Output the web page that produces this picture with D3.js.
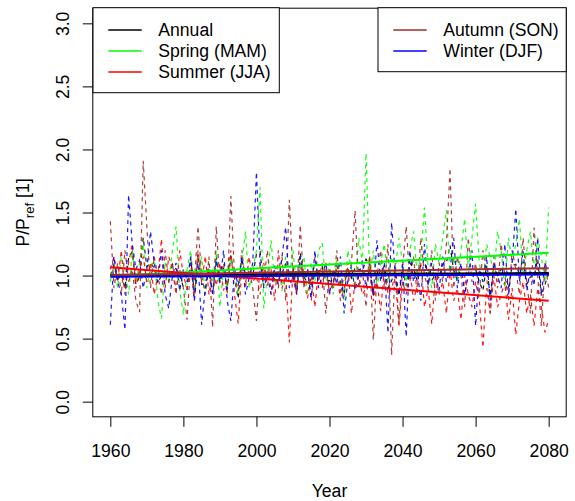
<!DOCTYPE html>
<html>
<head>
<meta charset="utf-8">
<script src="https://cdn.jsdelivr.net/npm/d3@7"></script>
<style>
  body { margin: 0; background: #fff; }
  text { font-family: "Liberation Sans", Arial, Helvetica, sans-serif; }
</style>
</head>
<body>
<div id="chart"></div>
<script>

// years 1960..2080
var years = d3.range(1960, 2081);

var annual = [
  1.00, 1.08, 0.97, 1.01, 0.90, 1.14, 1.19, 0.93, 0.99, 1.30,
  1.07, 1.10, 1.06, 0.94, 1.00, 1.01, 0.95, 1.09, 1.05, 1.00,
  0.91, 0.89, 1.14, 0.86, 1.17, 0.93, 0.94, 1.04, 0.86, 1.16,
  0.94, 1.06, 0.89, 1.16, 0.98, 0.82, 1.13, 1.01, 1.02, 1.00,
  1.17, 1.19, 0.92, 1.03, 1.01, 0.97, 1.03, 1.02, 1.09, 0.99,
  1.06, 0.87, 1.18, 0.99, 0.94, 0.93, 1.01, 1.03, 1.07, 0.96,
  0.96, 0.94, 1.08, 0.95, 0.85, 1.05, 0.98, 1.06, 1.05, 1.03,
  1.13, 1.09, 0.84, 1.03, 0.99, 1.08, 0.90, 0.96, 1.04, 0.84,
  1.05, 0.92, 1.10, 1.06, 0.96, 1.09, 1.13, 0.94, 0.96, 1.01,
  0.98, 1.09, 1.10, 1.24, 1.04, 0.98, 0.99, 1.01, 1.05, 1.05,
  1.05, 0.95, 0.88, 1.08, 0.84, 1.06, 1.00, 1.05, 1.03, 0.90,
  1.08, 1.09, 1.01, 1.11, 0.93, 0.99, 0.99, 1.13, 0.84, 0.93, 1.02
];

var spring = [
  0.95, 1.10, 0.90, 1.15, 1.05, 0.85, 1.20, 0.95, 1.10, 1.25,
  0.90, 1.05, 1.15, 0.80, 0.66, 1.10, 0.95, 1.20, 1.39, 0.88,
  0.69, 1.05, 1.20, 0.90, 1.00, 1.15, 0.85, 1.10, 0.95, 1.20,
  0.75, 1.05, 0.90, 1.15, 1.00, 0.85, 1.10, 1.35, 0.90, 1.05,
  1.20, 1.70, 0.74, 1.00, 1.28, 0.95, 1.10, 0.88, 1.15, 1.00,
  1.20, 0.90, 1.05, 1.15, 0.85, 1.10, 0.95, 1.20, 1.26, 0.92,
  1.10, 0.85, 1.15, 1.00, 0.80, 1.20, 1.05, 0.90, 1.30, 1.10,
  1.97, 1.00, 1.20, 0.90, 1.10, 1.25, 0.95, 1.15, 1.05, 1.30,
  1.10, 0.92, 1.20, 1.35, 1.00, 1.15, 1.54, 1.05, 0.90, 1.25,
  1.10, 1.30, 1.52, 1.00, 1.15, 0.95, 1.20, 1.45, 1.05, 1.30,
  1.57, 1.10, 0.95, 1.25, 1.15, 1.00, 1.35, 1.20, 0.90, 1.30,
  1.10, 1.25, 1.45, 1.00, 1.20, 1.35, 1.05, 1.30, 1.15, 0.95, 1.54
];

var summer = [
  1.05, 1.15, 0.95, 1.20, 0.85, 1.10, 1.25, 0.90, 1.05, 1.15,
  0.95, 1.10, 0.85, 1.00, 1.29, 0.90, 1.15, 1.05, 0.85, 1.20,
  1.00, 0.90, 1.10, 0.80, 1.20, 0.95, 1.155, 0.85, 1.05, 0.92,
  1.10, 0.88, 1.00, 1.20, 0.85, 0.62, 1.05, 0.90, 1.15, 0.95,
  1.00, 0.85, 1.10, 0.92, 1.05, 0.80, 1.20, 0.90, 1.00, 0.47,
  1.05, 0.88, 1.10, 0.95, 0.82, 1.00, 0.75, 1.05, 0.90, 1.10,
  0.85, 0.95, 1.05, 0.80, 0.90, 1.10, 0.70, 0.95, 1.00, 0.85,
  0.90, 1.15, 0.80, 0.95, 0.72, 1.05, 0.85, 0.90, 1.00, 0.59,
  0.95, 0.85, 1.05, 0.80, 0.92, 1.10, 0.75, 0.90, 0.616, 1.00,
  0.85, 0.95, 0.70, 1.05, 0.80, 0.90, 0.65, 1.00, 0.85, 0.75,
  0.95, 0.80, 0.43, 0.90, 0.70, 1.00, 0.75, 0.85, 0.95, 0.65,
  0.90, 0.53, 0.80, 0.95, 0.70, 0.85, 0.60, 0.90, 0.75, 0.55, 0.65
];

var autumn = [
  1.43, 0.90, 1.10, 0.85, 1.20, 0.95, 1.05, 0.80, 0.71, 1.91,
  1.39, 0.90, 1.15, 1.00, 0.85, 1.20, 0.95, 1.10, 0.88, 1.05,
  0.90, 0.65, 1.10, 0.95, 1.39, 1.00, 0.85, 1.15, 0.59, 1.39,
  0.95, 1.10, 0.85, 1.63, 1.00, 0.88, 1.20, 0.95, 1.05, 0.90,
  0.64, 1.10, 0.95, 1.20, 0.85, 1.05, 0.90, 1.15, 0.80, 1.60,
  1.00, 0.85, 1.40, 0.90, 1.05, 0.80, 1.15, 0.95, 1.10, 0.70,
  1.05, 0.90, 1.20, 0.85, 1.00, 0.95, 1.10, 1.515, 0.90, 1.05,
  0.75, 1.15, 0.49, 1.00, 1.20, 0.90, 1.25, 0.37, 1.10, 0.63,
  1.05, 1.39, 0.95, 1.15, 0.85, 1.30, 1.00, 0.90, 1.20, 0.80,
  1.10, 0.95, 1.25, 1.85, 0.90, 1.15, 1.00, 0.75, 1.30, 0.95,
  1.10, 0.85, 1.20, 1.00, 0.70, 1.15, 0.90, 1.25, 1.00, 0.80,
  1.20, 1.05, 0.85, 1.30, 0.95, 0.70, 1.38, 1.00, 0.60, 1.10, 0.90
];

var winter = [
  0.61, 1.15, 0.95, 0.85, 0.57, 1.64, 1.25, 1.05, 1.12, 0.90,
  1.05, 1.35, 1.10, 0.95, 1.20, 0.85, 0.74, 1.00, 1.10, 0.88,
  1.05, 0.95, 1.15, 0.80, 1.10, 0.61, 0.90, 1.05, 0.85, 1.12,
  0.95, 1.20, 0.80, 0.64, 1.05, 0.92, 1.15, 0.85, 0.98, 1.10,
  1.82, 1.10, 0.90, 1.00, 0.85, 1.08, 0.93, 1.15, 1.385, 0.90,
  1.00, 0.85, 1.15, 0.95, 1.05, 0.82, 1.20, 0.90, 1.00, 1.10,
  0.85, 1.05, 0.93, 1.15, 0.70, 0.95, 1.08, 0.88, 1.00, 1.12,
  0.90, 1.05, 0.85, 1.28, 0.95, 1.10, 0.545, 1.42, 1.00, 0.85,
  1.10, 0.515, 1.20, 0.95, 1.05, 0.80, 1.25, 0.92, 1.10, 1.00,
  0.88, 1.15, 0.95, 1.05, 1.30, 0.90, 1.10, 0.85, 1.00, 1.20,
  0.60, 1.05, 0.95, 1.15, 0.80, 1.10, 1.00, 0.90, 1.25, 0.85,
  1.10, 1.53, 0.95, 1.20, 0.88, 1.05, 0.92, 1.30, 0.85, 1.10, 1.00
];

// linear trend lines, value at 1960 and at 2080
var trendAnnual = [1.005, 1.02];
var trendSpring = [0.995, 1.18];
var trendSummer = [1.065, 0.80];
var trendAutumn = [1.005, 1.058];
var trendWinter = [0.99, 1.008];

var xTicks = [1960, 1980, 2000, 2020, 2040, 2060, 2080];
var yTicks = [0, 0.5, 1, 1.5, 2, 2.5, 3];

var legendLeft = ["Annual", "Spring (MAM)", "Summer (JJA)"];
var legendRight = ["Autumn (SON)", "Winter (DJF)"];

var svgWidth = 575;
var svgHeight = 501;

var box = { left: 92.8, right: 566.2, top: 8.2, bottom: 416.8 };

var svg = d3.select("#chart")
  .append("svg")
  .attr("width", svgWidth)
  .attr("height", svgHeight);

// R style 4% padding around the data range
var xScale = d3.scaleLinear()
  .domain([1955.2, 2084.8])
  .range([box.left, box.right]);

var yScale = d3.scaleLinear()
  .domain([-0.12, 3.12])
  .range([box.bottom, box.top]);

var fontSize = 17.6;

var series = [
  { values: annual, trend: trendAnnual, color: "#000000" },
  { values: spring, trend: trendSpring, color: "#00FF00" },
  { values: summer, trend: trendSummer, color: "#FF0000" },
  { values: autumn, trend: trendAutumn, color: "#A52A2A" },
  { values: winter, trend: trendWinter, color: "#0000FF" }
];

var plot = svg.append("g");

var line = d3.line()
  .x((d, i) => xScale(years[i]))
  .y(d => yScale(d));

// dashed yearly values
series.forEach(function(s) {
  plot.append("path")
    .datum(s.values)
    .attr("d", line)
    .attr("fill", "none")
    .attr("stroke", s.color)
    .attr("stroke-width", 1.2)
    .attr("stroke-opacity", 0.9)
    .attr("stroke-dasharray", "4,4");
});

// solid trends on top
series.forEach(function(s) {
  plot.append("line")
    .attr("x1", xScale(1960))
    .attr("x2", xScale(2080))
    .attr("y1", yScale(s.trend[0]))
    .attr("y2", yScale(s.trend[1]))
    .attr("stroke", s.color)
    .attr("stroke-width", 2);
});

// axes
var xAxis = d3.axisBottom(xScale)
  .tickValues(xTicks)
  .tickFormat(d3.format("d"))
  .tickSizeOuter(0)
  .tickSize(10)
  .tickPadding(18);

var gx = svg.append("g")
  .attr("transform", `translate(0, ${box.bottom})`)
  .call(xAxis);
gx.select(".domain").remove();
gx.selectAll("text")
  .attr("font-size", fontSize)
  .attr("font-family", "Liberation Sans, Arial, sans-serif")
  .attr("fill", "#000");

var yAxis = d3.axisLeft(yScale)
  .tickValues(yTicks)
  .tickFormat(d3.format(".1f"))
  .tickSizeOuter(0)
  .tickSize(10);

var gy = svg.append("g")
  .attr("transform", `translate(${box.left}, 0)`)
  .call(yAxis);
gy.select(".domain").remove();
gy.selectAll(".tick text")
  .attr("x", 0)
  .attr("dy", 0)
  .attr("font-size", fontSize)
  .attr("font-family", "Liberation Sans, Arial, sans-serif")
  .attr("fill", "#000")
  .style("text-anchor", "middle")
  .attr("transform", "translate(-24, 0) rotate(-90)");

// plot box
svg.append("rect")
  .attr("x", box.left)
  .attr("y", box.top)
  .attr("width", box.right - box.left)
  .attr("height", box.bottom - box.top)
  .attr("fill", "none")
  .attr("stroke", "#000")
  .attr("stroke-width", 1);

// axis titles
svg.append("text")
  .attr("x", (box.left + box.right) / 2)
  .attr("y", 497)
  .attr("font-size", fontSize)
  .style("text-anchor", "middle")
  .text("Year");

var ylab = svg.append("text")
  .attr("transform", `translate(28.5, ${(box.top + box.bottom) / 2}) rotate(-90)`)
  .attr("font-size", fontSize)
  .style("text-anchor", "middle");
ylab.append("tspan").text("P/P");
ylab.append("tspan")
  .attr("dy", 5)
  .attr("font-size", fontSize * 0.75)
  .text("ref");
ylab.append("tspan")
  .attr("dy", -5)
  .text(" [1]");

// legends
function drawLegend(x0, x1, labels, colors) {
  var rowH = 21;
  var g = svg.append("g");
  g.append("rect")
    .attr("x", x0)
    .attr("y", box.top - 0.5)
    .attr("width", x1 - x0)
    .attr("height", rowH * (labels.length + 1) + 1)
    .attr("fill", "#fff")
    .attr("stroke", "#000")
    .attr("stroke-width", 1);
  labels.forEach(function(lab, i) {
    var yy = 30 + i * rowH;
    g.append("line")
      .attr("x1", x0 + 15.3)
      .attr("x2", x0 + 48.7)
      .attr("y1", yy)
      .attr("y2", yy)
      .attr("stroke", colors[i])
      .attr("stroke-width", 1.3);
    g.append("text")
      .attr("x", x0 + 65.3)
      .attr("y", yy + 6.3)
      .attr("font-size", fontSize)
      .text(lab);
  });
}

drawLegend(93, 279.3, legendLeft, ["#000000", "#00FF00", "#FF0000"]);
drawLegend(378, box.right, legendRight, ["#A52A2A", "#0000FF"]);

</script>
</body>
</html>
